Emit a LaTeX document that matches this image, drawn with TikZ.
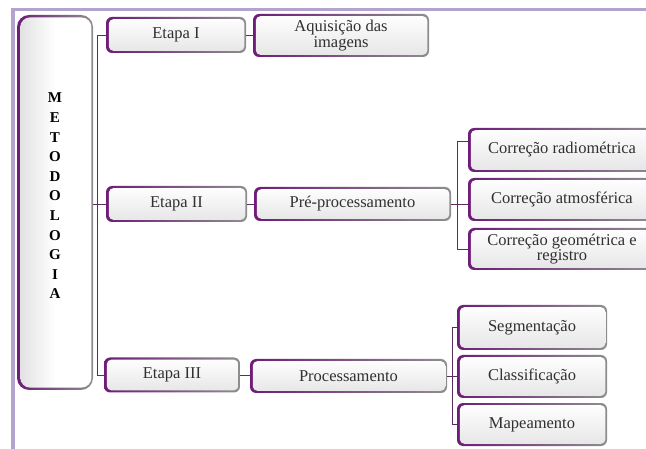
\documentclass[tikz,border=0pt]{standalone}
\usepackage{fontspec}
\setmainfont{Liberation Serif}
\usetikzlibrary{calc}
\definecolor{framec}{HTML}{B3A3CF}
\definecolor{brdA}{HTML}{6E1C78}
\definecolor{brdB}{HTML}{8E8E8E}
\definecolor{connc}{HTML}{5E2A62}
\definecolor{txtc}{HTML}{303030}
\tikzset{
  smbox/.style={rounded corners=6pt, inner sep=0pt, align=center, text=txtc,
    font=\fontsize{16.5}{13.5}\selectfont, left color=brdA, right color=brdB,
    path picture={\shade[rounded corners=4.5pt, top color=white, bottom color=gray!20]
      ([shift={(2.8pt,2.2pt)}]path picture bounding box.south west) rectangle
      ([shift={(-1.6pt,-2.2pt)}]path picture bounding box.north east);}},
  bigbox/.style={smbox, rounded corners=12pt,
    path picture={\shade[rounded corners=10pt, left color=gray!25, right color=white, middle color=white]
      ([shift={(3.2pt,2.4pt)}]path picture bounding box.south west) rectangle
      ([shift={(-1.6pt,-2.4pt)}]path picture bounding box.north east);}},
  conn/.style={draw=connc, line width=0.9pt},
}
\begin{document}
\begin{tikzpicture}[x=1pt,y=-1pt]
\useasboundingbox (0,0) rectangle (646,449);
\draw[framec, line width=3.5pt] (13,449) -- (13,9.5) -- (646,9.5);

\node[bigbox, minimum width=76, minimum height=375] (met) at (55,202.5) {};
\node[font=\fontsize{15}{19.6}\selectfont\bfseries, align=center, text=black, inner sep=0pt] (metl) at (55,196)
  {M\\E\\T\\O\\D\\O\\L\\O\\G\\I\\A};

\node[smbox, minimum width=140, minimum height=36] (e1) at (176,35) {Etapa I};
\node[smbox, minimum width=141, minimum height=36] (e2) at (176.5,204) {Etapa II};
\node[smbox, minimum width=136, minimum height=35] (e3) at (172,375) {Etapa III};

\node[smbox, minimum width=176, minimum height=43] (aq) at (341,35.5) {Aquisição das\\imagens};
\node[smbox, minimum width=197, minimum height=34] (pre) at (352.5,204) {Pré-processamento};
\node[smbox, minimum width=197, minimum height=34] (proc) at (348.5,376) {Processamento};

\node[smbox, minimum width=188, minimum height=44] (c1) at (562,150) {Correção radiométrica};
\node[smbox, minimum width=188, minimum height=43] (c2) at (562,199.5) {Correção atmosférica};
\node[smbox, minimum width=188, minimum height=42] (c3) at (562,249) {Correção geométrica e\\registro};

\node[smbox, minimum width=150, minimum height=45] (s1) at (532,327.5) {Segmentação};
\node[smbox, minimum width=150, minimum height=43] (s2) at (532,376.5) {Classificação};
\node[smbox, minimum width=150, minimum height=43] (s3) at (532,424.5) {Mapeamento};

\draw[conn] (e1.west) -- ++(-8,0) |- (e3.west);
\draw[conn] (met.east |- e2.west) -- (e2.west);
\draw[conn] (e1.east) -- (e1.east -| aq.west);
\draw[conn] (e2.east) -- (e2.east -| pre.west);
\draw[conn] (e3.east) -- (e3.east -| proc.west);
\draw[conn] (pre.east) -- (pre.east -| c2.west);
\draw[conn] ($(c1.west)+(0,-9)$) -- ++(-10,0) |- (c3.west);
\draw[conn] (proc.east) -- (proc.east -| s2.west);
\draw[conn] (s1.west) -- ++(-4,0) |- (s3.west);
\end{tikzpicture}
\end{document}
